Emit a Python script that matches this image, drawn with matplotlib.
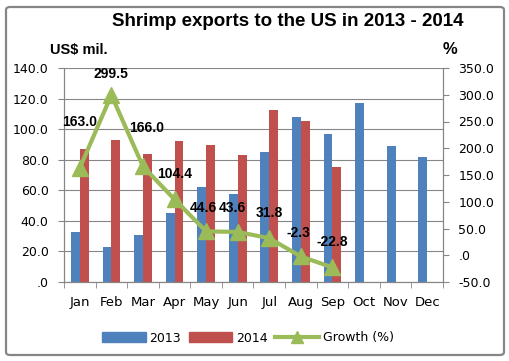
import numpy as np
import matplotlib.pyplot as plt
from matplotlib.patches import FancyBboxPatch
from matplotlib.lines import Line2D
from matplotlib.patches import Patch

# Data
months = ['Jan', 'Feb', 'Mar', 'Apr', 'May', 'Jun', 'Jul', 'Aug', 'Sep', 'Oct', 'Nov', 'Dec']
exports_2013 = [33, 23, 31, 45, 62, 57.5, 85, 108, 97, 117, 89, 82]
exports_2014 = [87, 93, 84, 92, 89.5, 83, 112.5, 105.5, 75]
growth = [163.0, 299.5, 166.0, 104.4, 44.6, 43.6, 31.8, -2.3, -22.8]

# label offsets (points) for the growth labels
label_dy = [33, 15, 28, 18, 17, 17, 18, 17, 18]
label_dx = [0, 0, 3, 0, -2, -4, 0, -2, 0]

blue = '#4F81BD'
red = '#C0504D'
green = '#9BBB59'
gray = '#868686'

def fmt(v, pos=None):
    s = f"{v:.1f}"
    if s.startswith('0.'):
        s = s[1:]
    return s

fig = plt.figure(figsize=(5.1, 3.61), dpi=100)
fig.patch.set_facecolor('white')

# outer border
border = FancyBboxPatch((6 / 510, 6 / 361), 498 / 510, 348 / 361,
                        boxstyle='round,pad=0,rounding_size=0.008',
                        transform=fig.transFigure, fill=False,
                        edgecolor=gray, linewidth=1.6)
fig.patches.append(border)

ax = fig.add_axes([64 / 510, 1 - 282 / 361, 379 / 510, 214 / 361])
x = np.arange(len(months))
w = 0.28
ax.bar(x - w / 2, exports_2013, width=w, color=blue, zorder=2)
ax.bar(np.arange(len(exports_2014)) + w / 2, exports_2014, width=w, color=red, zorder=2)

ax.set_xlim(-0.5, 11.5)
ax.set_ylim(0, 140)
ax.set_yticks(np.arange(0, 141, 20))
ax.yaxis.set_major_formatter(plt.FuncFormatter(fmt))
ax.grid(axis='y', color=gray, linewidth=0.8, zorder=0)
ax.set_axisbelow(True)
ax.set_xticks(x)
ax.set_xticklabels(months, fontsize=9.5)
ax.set_xticks(np.arange(-0.5, 12, 1), minor=True)
ax.tick_params(axis='x', which='major', length=0, pad=10)
ax.tick_params(axis='x', which='minor', length=4, color=gray)
ax.tick_params(axis='y', length=4, color=gray, labelsize=9, pad=7)
ax.spines['top'].set_visible(False)
for s in ['left', 'bottom', 'right']:
    ax.spines[s].set_color(gray)

ax2 = ax.twinx()
ax2.plot(np.arange(len(growth)), growth, color=green, linewidth=3,
         marker='^', markersize=11, zorder=5)
ax2.set_ylim(-50, 350)
ax2.set_yticks(np.arange(-50, 351, 50))
ax2.yaxis.set_major_formatter(plt.FuncFormatter(fmt))
ax2.tick_params(axis='y', length=4, color=gray, labelsize=9, pad=7)
ax2.spines['top'].set_visible(False)
for s in ['left', 'bottom', 'right']:
    ax2.spines[s].set_color(gray)

for i, g in enumerate(growth):
    ax2.annotate(f"{g:.1f}", (i, g), xytext=(label_dx[i], label_dy[i]),
                 textcoords='offset points', ha='center', va='center',
                 fontsize=10, fontweight='bold', family='Liberation Sans')

fig.text(288 / 510, 1 - 22 / 361, 'Shrimp exports to the US in 2013 - 2014',
         ha='center', va='center', fontsize=13.5, fontweight='bold',
         family='Liberation Sans')
fig.text(50 / 510, 1 - 50 / 361, 'US$ mil.', ha='left', va='center',
         fontsize=10.5, fontweight='bold', family='Liberation Sans')
fig.text(450 / 510, 1 - 50 / 361, '%', ha='center', va='center',
         fontsize=12, fontweight='bold', family='Liberation Sans')

handles = [Patch(color=blue), Patch(color=red),
           Line2D([], [], color=green, linewidth=3, marker='^', markersize=8)]
fig.legend(handles, ['2013', '2014', 'Growth (%)'], loc='center',
           bbox_to_anchor=(248 / 510, 1 - 338 / 361), ncol=3, frameon=False,
           fontsize=9, handlelength=3.5, handleheight=0.9, columnspacing=0.6,
           handletextpad=0.3)

plt.savefig('out.png', dpi=100)
